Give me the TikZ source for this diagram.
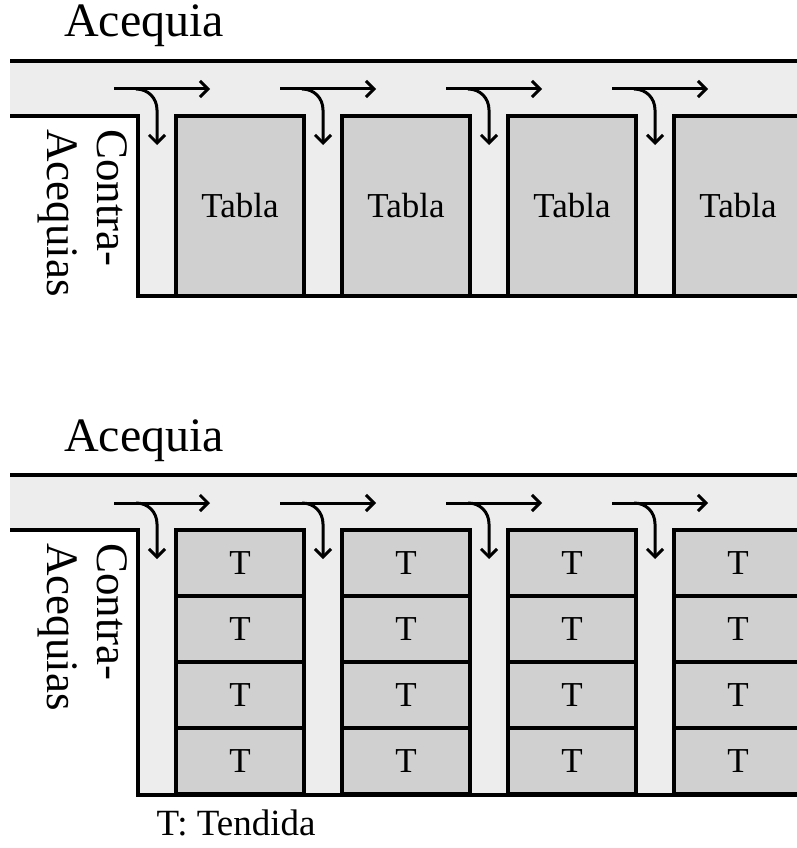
\documentclass[tikz,border=0pt]{standalone}
\usepackage{fontspec}
\setmainfont{Liberation Serif}
\usetikzlibrary{arrows.meta}

\definecolor{canal}{HTML}{EDEDED}
\definecolor{parcela}{HTML}{D0D0D0}
\newcommand{\grande}{\fontsize{48}{52}\selectfont}
\newcommand{\medio}{\fontsize{35}{40}\selectfont}

\begin{document}
\begin{tikzpicture}[x=1pt,y=-1pt,
    borde/.style={line width=3.5pt},
    tabla/.style={draw,line width=3.5pt,fill=parcela,minimum width=128pt,inner sep=0pt,font=\medio},
    tendida/.style={tabla,minimum height=66pt},
    flecha/.style={line width=3pt,-{Straight Barb[length=8pt,width=16pt]}}]
    \clip (0,0) rectangle (797,848);

    % arriba: tablas
    \node[anchor=base] (acq1) at (144,37) {\grande Acequia};
    \fill[canal] (10,61) -- (797,61) -- (797,296) -- (138,296) -- (138,116) -- (10,116) -- cycle;
    \draw[borde] (10,61) -- (800,61);
    \draw[borde] (10,116) -- (138,116) -- (138,296) -- (800,296);
    \node[rotate=-90,align=left,font=\fontsize{45}{50}\selectfont] (contra1) at (83,213) {Contra-\\Acequias};
    \node[tabla,minimum height=180pt] (tabla1) at (240,206) {Tabla};
    \node[tabla,minimum height=180pt] (tabla2) at (406,206) {Tabla};
    \node[tabla,minimum height=180pt] (tabla3) at (572,206) {Tabla};
    \node[tabla,minimum height=180pt] (tabla4) at (738,206) {Tabla};

    \coordinate (h1a) at (114,89); \coordinate (h1b) at (210,89);
    \coordinate (c1) at (136,89); \coordinate (d1) at (157,145);
    \draw[flecha] (h1a) -- (h1b);
    \draw[flecha] (c1) .. controls +(12,0) and +(0,-12) .. ++(21,21) -- (d1);
    \coordinate (h2a) at (280,89); \coordinate (h2b) at (376,89);
    \coordinate (c2) at (302,89); \coordinate (d2) at (323,145);
    \draw[flecha] (h2a) -- (h2b);
    \draw[flecha] (c2) .. controls +(12,0) and +(0,-12) .. ++(21,21) -- (d2);
    \coordinate (h3a) at (446,89); \coordinate (h3b) at (542,89);
    \coordinate (c3) at (468,89); \coordinate (d3) at (489,145);
    \draw[flecha] (h3a) -- (h3b);
    \draw[flecha] (c3) .. controls +(12,0) and +(0,-12) .. ++(21,21) -- (d3);
    \coordinate (h4a) at (612,89); \coordinate (h4b) at (708,89);
    \coordinate (c4) at (634,89); \coordinate (d4) at (655,145);
    \draw[flecha] (h4a) -- (h4b);
    \draw[flecha] (c4) .. controls +(12,0) and +(0,-12) .. ++(21,21) -- (d4);

    % abajo: tendidas
    \node[anchor=base] (acq2) at (144,451) {\grande Acequia};
    \fill[canal] (10,475) -- (797,475) -- (797,795) -- (138,795) -- (138,530) -- (10,530) -- cycle;
    \draw[borde] (10,475) -- (800,475);
    \draw[borde] (10,530) -- (138,530) -- (138,795) -- (800,795);
    \node[rotate=-90,align=left,font=\fontsize{45}{50}\selectfont] (contra2) at (83,627) {Contra-\\Acequias};
    \node[tendida] (t11) at (240,563) {T};
    \node[tendida] (t12) at (240,629) {T};
    \node[tendida] (t13) at (240,695) {T};
    \node[tendida] (t14) at (240,761) {T};
    \node[tendida] (t21) at (406,563) {T};
    \node[tendida] (t22) at (406,629) {T};
    \node[tendida] (t23) at (406,695) {T};
    \node[tendida] (t24) at (406,761) {T};
    \node[tendida] (t31) at (572,563) {T};
    \node[tendida] (t32) at (572,629) {T};
    \node[tendida] (t33) at (572,695) {T};
    \node[tendida] (t34) at (572,761) {T};
    \node[tendida] (t41) at (738,563) {T};
    \node[tendida] (t42) at (738,629) {T};
    \node[tendida] (t43) at (738,695) {T};
    \node[tendida] (t44) at (738,761) {T};

    \coordinate (h5a) at (114,503); \coordinate (h5b) at (210,503);
    \coordinate (c5) at (136,503); \coordinate (d5) at (157,559);
    \draw[flecha] (h5a) -- (h5b);
    \draw[flecha] (c5) .. controls +(12,0) and +(0,-12) .. ++(21,21) -- (d5);
    \coordinate (h6a) at (280,503); \coordinate (h6b) at (376,503);
    \coordinate (c6) at (302,503); \coordinate (d6) at (323,559);
    \draw[flecha] (h6a) -- (h6b);
    \draw[flecha] (c6) .. controls +(12,0) and +(0,-12) .. ++(21,21) -- (d6);
    \coordinate (h7a) at (446,503); \coordinate (h7b) at (542,503);
    \coordinate (c7) at (468,503); \coordinate (d7) at (489,559);
    \draw[flecha] (h7a) -- (h7b);
    \draw[flecha] (c7) .. controls +(12,0) and +(0,-12) .. ++(21,21) -- (d7);
    \coordinate (h8a) at (612,503); \coordinate (h8b) at (708,503);
    \coordinate (c8) at (634,503); \coordinate (d8) at (655,559);
    \draw[flecha] (h8a) -- (h8b);
    \draw[flecha] (c8) .. controls +(12,0) and +(0,-12) .. ++(21,21) -- (d8);

    \node[anchor=base,font=\fontsize{37}{42}\selectfont] (nota) at (236,835) {T: Tendida};
\end{tikzpicture}
\end{document}
